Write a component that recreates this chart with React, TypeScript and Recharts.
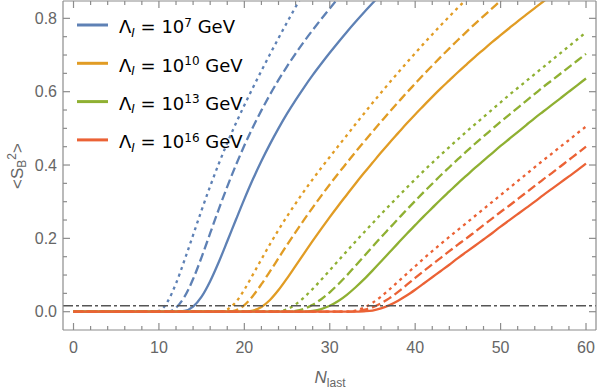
import React from 'react';
import { LineChart, Line, XAxis, YAxis, ReferenceLine, Legend } from 'recharts';

// ---------- data ----------
const N_VALUES = [
  0, 1, 2, 3, 4, 5, 6, 7, 8, 9, 10, 11, 12, 13, 14, 15, 16, 17, 18, 19, 20,
  21, 22, 23, 24, 25, 26, 27, 28, 29, 30, 31, 32, 33, 34, 35, 36, 37, 38, 39, 40,
  41, 42, 43, 44, 45, 46, 47, 48, 49, 50, 51, 52, 53, 54, 55, 56, 57, 58, 59, 60,
];

// Lambda_I = 1e7 GeV
const BLUE_SOLID = [
  0, 0, 0, 0, 0, 0, 0, 0, 0, 0,
  0, 0, 0,
  0.002, 0.014, 0.041, 0.083, 0.135, 0.192, 0.25, 0.307, 0.361, 0.411, 0.457, 0.5,
  0.54, 0.577, 0.612, 0.645, 0.676, 0.706, 0.735, 0.763, 0.79, 0.816, 0.841, 0.866, 0.89,
  null, null, null, null, null, null, null, null, null, null,
  null, null, null, null, null, null, null, null, null, null,
  null, null, null,
];
const BLUE_DASHED = [
  0, 0, 0, 0, 0, 0, 0, 0, 0, 0,
  0, 0,
  0.011, 0.041, 0.089, 0.149, 0.214, 0.279, 0.341, 0.399, 0.453, 0.503, 0.549, 0.592,
  0.632, 0.669, 0.704, 0.737, 0.768, 0.798, 0.827, 0.855, 0.882,
  null, null, null, null, null, null, null, null, null, null,
  null, null, null, null, null, null, null, null, null, null,
  null, null, null, null, null, null, null, null,
];
const BLUE_DOTTED = [
  0, 0, 0, 0, 0, 0, 0, 0, 0, 0,
  0.002, 0.027, 0.077, 0.141, 0.209, 0.277, 0.342, 0.403, 0.46, 0.513, 0.563, 0.611,
  0.657, 0.702, 0.746, 0.789, 0.831, 0.872, 0.912,
  null, null, null, null, null, null, null, null, null, null,
  null, null, null, null, null, null, null, null, null, null,
  null, null, null, null, null, null, null, null, null, null,
  null, null,
];

// Lambda_I = 1e10 GeV
const ORANGE_SOLID = [
  0, 0, 0, 0, 0, 0, 0, 0, 0, 0,
  0, 0, 0, 0, 0, 0, 0, 0, 0, 0,
  0,
  0.003, 0.013, 0.032, 0.059, 0.091, 0.125, 0.159, 0.193, 0.226, 0.258, 0.289, 0.319,
  0.349, 0.378, 0.406, 0.434, 0.461, 0.487, 0.513, 0.538, 0.562, 0.586, 0.609, 0.631,
  0.653, 0.674, 0.695, 0.715, 0.735, 0.754, 0.773, 0.792, 0.81, 0.828, 0.846, 0.863, 0.88,
  null, null, null,
];
const ORANGE_DASHED = [
  0, 0, 0, 0, 0, 0, 0, 0, 0, 0,
  0, 0, 0, 0, 0, 0, 0, 0, 0,
  0.004, 0.018, 0.043, 0.075, 0.11, 0.146, 0.182, 0.217, 0.251, 0.284, 0.316, 0.347,
  0.377, 0.406, 0.435, 0.463, 0.491, 0.518, 0.545, 0.571, 0.597, 0.622, 0.647, 0.671,
  0.695, 0.718, 0.741, 0.763, 0.785, 0.806, 0.827, 0.848, 0.868, 0.888,
  null, null, null, null, null, null, null, null,
];
const ORANGE_DOTTED = [
  0, 0, 0, 0, 0, 0, 0, 0, 0, 0,
  0, 0, 0, 0, 0, 0, 0, 0,
  0.006, 0.026, 0.06, 0.101, 0.143, 0.184, 0.223, 0.26, 0.295, 0.329, 0.361, 0.392,
  0.422, 0.452, 0.481, 0.511, 0.54, 0.569, 0.597, 0.625, 0.652, 0.679, 0.705, 0.731,
  0.756, 0.781, 0.805, 0.829, 0.852, 0.875,
  null, null, null, null, null, null, null, null, null, null,
  null, null, null,
];

// Lambda_I = 1e13 GeV
const GREEN_SOLID = [
  0, 0, 0, 0, 0, 0, 0, 0, 0, 0,
  0, 0, 0, 0, 0, 0, 0, 0, 0, 0,
  0, 0, 0, 0, 0, 0, 0, 0,
  0.002, 0.007, 0.016, 0.029, 0.046, 0.066, 0.088, 0.112, 0.137, 0.162, 0.187, 0.212,
  0.236, 0.26, 0.283, 0.306, 0.328, 0.35, 0.371, 0.392, 0.412, 0.432, 0.452, 0.471,
  0.49, 0.509, 0.528, 0.546, 0.564, 0.582, 0.6, 0.618, 0.636,
];
const GREEN_DASHED = [
  0, 0, 0, 0, 0, 0, 0, 0, 0, 0,
  0, 0, 0, 0, 0, 0, 0, 0, 0, 0,
  0, 0, 0, 0, 0, 0,
  0.002, 0.008, 0.019, 0.034, 0.053, 0.075, 0.099, 0.125, 0.151, 0.177, 0.203, 0.228,
  0.253, 0.278, 0.302, 0.326, 0.349, 0.372, 0.394, 0.416, 0.437, 0.458, 0.478, 0.498,
  0.518, 0.537, 0.556, 0.575, 0.594, 0.613, 0.631, 0.649, 0.667, 0.685, 0.703,
];
const GREEN_DOTTED = [
  0, 0, 0, 0, 0, 0, 0, 0, 0, 0,
  0, 0, 0, 0, 0, 0, 0, 0, 0, 0,
  0, 0, 0, 0,
  0.001, 0.007, 0.02, 0.039, 0.062, 0.087, 0.113, 0.139, 0.165, 0.191, 0.216, 0.241,
  0.266, 0.29, 0.314, 0.338, 0.361, 0.384, 0.406, 0.428, 0.449, 0.47, 0.491, 0.511,
  0.531, 0.551, 0.571, 0.591, 0.61, 0.629, 0.648, 0.667, 0.686, 0.705, 0.724, 0.743, 0.762,
];

// Lambda_I = 1e16 GeV
const RED_SOLID = [
  0, 0, 0, 0, 0, 0, 0, 0, 0, 0,
  0, 0, 0, 0, 0, 0, 0, 0, 0, 0,
  0, 0, 0, 0, 0, 0, 0, 0, 0, 0,
  0, 0, 0, 0,
  0.001, 0.003, 0.009, 0.018, 0.03, 0.044, 0.06, 0.077, 0.094, 0.111, 0.128, 0.146,
  0.163, 0.18, 0.197, 0.214, 0.232, 0.249, 0.266, 0.283, 0.3, 0.318, 0.335, 0.352,
  0.369, 0.386, 0.404,
];
const RED_DASHED = [
  0, 0, 0, 0, 0, 0, 0, 0, 0, 0,
  0, 0, 0, 0, 0, 0, 0, 0, 0, 0,
  0, 0, 0, 0, 0, 0, 0, 0, 0, 0,
  0, 0, 0,
  0.001, 0.005, 0.012, 0.023, 0.037, 0.054, 0.073, 0.092, 0.111, 0.129, 0.147, 0.165,
  0.183, 0.2, 0.218, 0.236, 0.254, 0.272, 0.289, 0.307, 0.325, 0.343, 0.361, 0.378,
  0.396, 0.414, 0.432, 0.45,
];
const RED_DOTTED = [
  0, 0, 0, 0, 0, 0, 0, 0, 0, 0,
  0, 0, 0, 0, 0, 0, 0, 0, 0, 0,
  0, 0, 0, 0, 0, 0, 0, 0, 0, 0,
  0, 0, 0,
  0.003, 0.011, 0.024, 0.041, 0.061, 0.082, 0.103, 0.124, 0.145, 0.165, 0.185, 0.204,
  0.223, 0.242, 0.261, 0.28, 0.299, 0.318, 0.337, 0.356, 0.375, 0.394, 0.413, 0.431,
  0.45, 0.468, 0.487, 0.505,
];

const THRESHOLD = 0.016;

const X_TICKS = [0, 2, 4, 6, 8, 10, 12, 14, 16, 18, 20, 22, 24, 26, 28, 30, 32, 34, 36, 38, 40, 42, 44, 46, 48, 50, 52, 54, 56, 58, 60];
const X_LABELS = [0, 10, 20, 30, 40, 50, 60];
const Y_TICKS = [0, 0.05, 0.1, 0.15, 0.2, 0.25, 0.3, 0.35, 0.4, 0.45, 0.5, 0.55, 0.6, 0.65, 0.7, 0.75, 0.8];
const Y_LABELS = [0, 0.2, 0.4, 0.6, 0.8];

const LEGEND_EXPONENTS = ['7', '10', '13', '16'];

// ---------- styles ----------
const COLORS = ['#5E81B5', '#E19C24', '#8FB032', '#EB6235'];
const FONT = '"Liberation Sans", Arial, sans-serif';
const LEGEND_FONT = '"DejaVu Sans", sans-serif';
const FRAME = '#8c8c8c';
const TICK_TEXT = '#666666';
const W = 599;
const H = 391;
const PLOT_LEFT = 63;
const PLOT_RIGHT = 596;
const PLOT_TOP = 1;
const PLOT_BOTTOM = 330;
const X_DOMAIN: [number, number] = [-1.23, 61.17];
const Y_DOMAIN: [number, number] = [-0.0499, 0.8473];
const DASH = '9 4';
const DOT = '3 4';

const SERIES = [
  { key: 'bT', values: BLUE_DOTTED, color: COLORS[0], dash: DOT },
  { key: 'bD', values: BLUE_DASHED, color: COLORS[0], dash: DASH },
  { key: 'bS', values: BLUE_SOLID, color: COLORS[0], dash: undefined },
  { key: 'oT', values: ORANGE_DOTTED, color: COLORS[1], dash: DOT },
  { key: 'oD', values: ORANGE_DASHED, color: COLORS[1], dash: DASH },
  { key: 'oS', values: ORANGE_SOLID, color: COLORS[1], dash: undefined },
  { key: 'gT', values: GREEN_DOTTED, color: COLORS[2], dash: DOT },
  { key: 'gD', values: GREEN_DASHED, color: COLORS[2], dash: DASH },
  { key: 'gS', values: GREEN_SOLID, color: COLORS[2], dash: undefined },
  { key: 'rT', values: RED_DOTTED, color: COLORS[3], dash: DOT },
  { key: 'rD', values: RED_DASHED, color: COLORS[3], dash: DASH },
  { key: 'rS', values: RED_SOLID, color: COLORS[3], dash: undefined },
];

const DATA = N_VALUES.map((n, i) => {
  const row: Record<string, number | null> = { N: n };
  SERIES.forEach((s) => {
    row[s.key] = s.values[i];
  });
  return row;
});

const isMajorY = (v: number) => Y_LABELS.some((m) => Math.abs(m - v) < 1e-6);
const isMajorX = (v: number) => X_LABELS.includes(v);

const BottomTick = (props: any) => {
  const { x, payload } = props;
  const v = payload.value;
  const major = isMajorX(v);
  return (
    <g>
      <line x1={x} x2={x} y1={PLOT_BOTTOM} y2={PLOT_BOTTOM - (major ? 7 : 4)} stroke={FRAME} strokeWidth={1.2} />
      {major && (
        <text x={x} y={353} textAnchor="middle" fontSize={16} fontFamily={FONT} fill={TICK_TEXT}>
          {v}
        </text>
      )}
    </g>
  );
};
const TopTick = (props: any) => {
  const { x, payload } = props;
  const major = isMajorX(payload.value);
  return <line x1={x} x2={x} y1={PLOT_TOP} y2={PLOT_TOP + (major ? 7 : 4)} stroke={FRAME} strokeWidth={1.2} />;
};
const LeftTick = (props: any) => {
  const { y, payload } = props;
  const v = payload.value;
  const major = isMajorY(v);
  return (
    <g>
      <line x1={PLOT_LEFT} x2={PLOT_LEFT + (major ? 7 : 4)} y1={y} y2={y} stroke={FRAME} strokeWidth={1.2} />
      {major && (
        <text x={57} y={y} dy={5.5} textAnchor="end" fontSize={16} fontFamily={FONT} fill={TICK_TEXT}>
          {v.toFixed(1)}
        </text>
      )}
    </g>
  );
};
const RightTick = (props: any) => {
  const { y, payload } = props;
  const major = isMajorY(payload.value);
  return <line x1={PLOT_RIGHT} x2={PLOT_RIGHT - (major ? 7 : 4)} y1={y} y2={y} stroke={FRAME} strokeWidth={1.2} />;
};

const Overlay = () => (
  <svg width={W} height={H} style={{ position: 'absolute', left: 0, top: 0 }}>
    {LEGEND_EXPONENTS.map((exp, i) => {
      const ly = 25 + 38.3 * i;
      const by = 33.3 + 38.3 * i;
      return (
        <g key={exp}>
          <line x1={77} x2={108} y1={ly} y2={ly} stroke={COLORS[i]} strokeWidth={3} />
          <text x={119} y={by} fontSize={18} fontFamily={LEGEND_FONT} fill="#000" style={{ whiteSpace: 'pre' }}>
            <tspan>Λ</tspan>
            <tspan fontSize={12} fontStyle="italic" dy={3.5}>I</tspan>
            <tspan dy={-3.5}> = 10</tspan>
            <tspan fontSize={12} dy={-6.6}>{exp}</tspan>
            <tspan dy={6.6}> GeV</tspan>
          </text>
        </g>
      );
    })}
    <text x={330} y={383} textAnchor="middle" fontSize={17} fontFamily={FONT} fill={TICK_TEXT}>
      <tspan fontStyle="italic">N</tspan>
      <tspan fontSize={12} dy={4}>last</tspan>
    </text>
    <text x={0} y={0} transform="translate(23,166) rotate(-90)" textAnchor="middle" fontSize={17} fontFamily={FONT} fill={TICK_TEXT}>
      <tspan>{'<S'}</tspan>
      <tspan fontSize={12} dy={3}>B</tspan>
      <tspan fontSize={12} dy={-10}>2</tspan>
      <tspan dy={7}>{'>'}</tspan>
    </text>
  </svg>
);

export default function App() {
  return (
    <div style={{ position: 'absolute', left: 0, top: 0, width: W, height: H, background: '#fff' }}>
      <LineChart width={W} height={H} data={DATA} margin={{ top: 0, right: 0, bottom: 0, left: 0 }}>
        <XAxis dataKey="N" type="number" domain={X_DOMAIN} allowDataOverflow ticks={X_TICKS} interval={0}
          height={H - PLOT_BOTTOM} axisLine={{ stroke: FRAME, strokeWidth: 1.2 }} tickLine={false} tick={<BottomTick />} />
        <XAxis xAxisId="top" orientation="top" dataKey="N" type="number" domain={X_DOMAIN} allowDataOverflow ticks={X_TICKS} interval={0}
          height={PLOT_TOP} axisLine={{ stroke: FRAME, strokeWidth: 1.2 }} tickLine={false} tick={<TopTick />} />
        <YAxis type="number" domain={Y_DOMAIN} allowDataOverflow ticks={Y_TICKS} interval={0}
          width={PLOT_LEFT} axisLine={{ stroke: FRAME, strokeWidth: 1.2 }} tickLine={false} tick={<LeftTick />} />
        <YAxis yAxisId="right" orientation="right" type="number" domain={Y_DOMAIN} allowDataOverflow ticks={Y_TICKS} interval={0}
          width={W - PLOT_RIGHT} axisLine={{ stroke: FRAME, strokeWidth: 1.2 }} tickLine={false} tick={<RightTick />} />
        <Line xAxisId="top" yAxisId="right" dataKey="rS" stroke="none" dot={false} activeDot={false} legendType="none" isAnimationActive={false} />
        {SERIES.map((s) => (
          <Line key={s.key} dataKey={s.key} type="monotone" stroke={s.color} strokeWidth={2.3} strokeDasharray={s.dash}
            dot={false} activeDot={false} isAnimationActive={false} />
        ))}
        <ReferenceLine y={THRESHOLD} stroke="#555" strokeWidth={1.5} strokeDasharray="10 3 3 3" />
        <Legend layout="horizontal" verticalAlign="middle" align="center"
          wrapperStyle={{ position: 'absolute', left: 0, top: 0, width: W, height: H, pointerEvents: 'none' }}
          content={() => <Overlay />} />
      </LineChart>
    </div>
  );
}
